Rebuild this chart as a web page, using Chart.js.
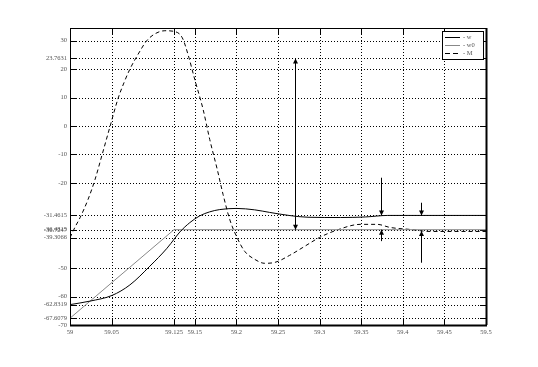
<!DOCTYPE html>
<html>
<head>
<meta charset="utf-8">
<script src="https://cdn.jsdelivr.net/npm/chart.js@4"></script>
<style>
  body { margin: 0; background: #fff; }
  #wrap { width: 538px; height: 367px; }
</style>
</head>
<body>
<div id="wrap"><canvas id="chart"></canvas></div>
<script>
// axis ticks
var xTicks = [59, 59.05, 59.125, 59.15, 59.2, 59.25, 59.3, 59.35, 59.4, 59.45, 59.5];
var yTicks = [-70, -67.6079, -62.8319, -60, -50, -39.3066, -36.7247, -36.4815, -31.4615, -20, -10, 0, 10, 20, 23.7631, 30];

// w (solid black)
var wX = [59.0, 59.024, 59.0505, 59.072, 59.096, 59.1166, 59.126, 59.132, 59.144, 59.156, 59.168, 59.180, 59.2, 59.222, 59.240, 59.264, 59.286, 59.325, 59.355, 59.382, 59.5];
var wY = [-62.83, -61.6, -59.6, -55.9, -49.3, -43.0, -39.5, -37.3, -34.0, -31.6, -30.2, -29.4, -29.0, -29.5, -30.4, -31.5, -32.1, -32.2, -32.0, -31.46, -31.46];

// w0 (grey)
var w0X = [59, 59.125, 59.5];
var w0Y = [-67.6079, -36.4815, -36.4815];

// M (dashed)
var mX = [59.000, 59.006, 59.012, 59.0216, 59.030, 59.0385, 59.048, 59.0577, 59.065, 59.072, 59.082, 59.092, 59.102, 59.114, 59.126, 59.135, 59.142, 59.150, 59.160, 59.168, 59.177, 59.184, 59.192, 59.2007, 59.210, 59.222, 59.234, 59.246, 59.264, 59.280, 59.300, 59.321, 59.349, 59.369, 59.385, 59.409, 59.433, 59.5];
var mY = [-39.31, -35.6, -32.3, -25.9, -18.9, -10.2, -0.3, 9.6, 15.3, 20.0, 25.3, 29.9, 32.4, 33.5, 33.2, 31, 25, 16.3, 5.8, -4.8, -15.3, -24.1, -32.9, -39.2, -44.1, -46.9, -48.3, -48, -45.5, -42.7, -39.2, -36.6, -34.6, -34.6, -35.7, -36.4, -37.1, -37.1];

// arrows: x position, tail value, tip value, head at tail too
var arrowX = [59.2704, 59.3734, 59.3734, 59.4217, 59.4217];
var arrowFrom = [-36.4815, -18.2, -40.5, -27, -48.1];
var arrowTo = [23.7631, -31.4615, -36.4815, -31.4615, -36.98];
var arrowBoth = [true, false, false, false, false];

var legendLabels = ['- w', '- w0', '- M'];

function pts(xs, ys) {
  return xs.map(function(x, i) { return { x: x, y: ys[i] }; });
}

function fmt(v) {
  return Number.isInteger(v) ? String(v) : String(+v.toFixed(4));
}

var tickFont = { family: 'Liberation Serif', size: 6.5 };

// grid, frame and inside ticks
var framePlugin = {
  id: 'frame',
  beforeDatasetsDraw: function(chart) {
    var ctx = chart.ctx, a = chart.chartArea;
    var xs = chart.scales.x, ys = chart.scales.y;
    ctx.save();
    ctx.strokeStyle = '#000';
    ctx.lineWidth = 1;
    ctx.setLineDash([1, 2]);
    xTicks.forEach(function(v) {
      var p = Math.round(xs.getPixelForValue(v)) + 0.5;
      ctx.beginPath(); ctx.moveTo(p, a.top); ctx.lineTo(p, a.bottom); ctx.stroke();
    });
    yTicks.forEach(function(v) {
      var p = Math.round(ys.getPixelForValue(v)) + 0.5;
      ctx.beginPath(); ctx.moveTo(a.left, p); ctx.lineTo(a.right, p); ctx.stroke();
    });
    ctx.setLineDash([]);
    xTicks.forEach(function(v) {
      var p = Math.round(xs.getPixelForValue(v)) + 0.5;
      ctx.beginPath();
      ctx.moveTo(p, a.bottom); ctx.lineTo(p, a.bottom - 6);
      ctx.moveTo(p, a.top); ctx.lineTo(p, a.top + 6);
      ctx.stroke();
    });
    yTicks.forEach(function(v) {
      var p = Math.round(ys.getPixelForValue(v)) + 0.5;
      ctx.beginPath();
      ctx.moveTo(a.left, p); ctx.lineTo(a.left + 6, p);
      ctx.moveTo(a.right, p); ctx.lineTo(a.right - 6, p);
      ctx.stroke();
    });
    ctx.restore();
  },
  afterDraw: function(chart) {
    var ctx = chart.ctx, a = chart.chartArea;
    var xs = chart.scales.x, ys = chart.scales.y;
    ctx.save();
    ctx.strokeStyle = '#000';
    ctx.fillStyle = '#000';
    ctx.lineWidth = 1;

    // arrows
    function head(px, py, dir) {
      ctx.beginPath();
      ctx.moveTo(px, py);
      ctx.lineTo(px - 2.5, py - dir * 5);
      ctx.lineTo(px + 2.5, py - dir * 5);
      ctx.closePath();
      ctx.fill();
    }
    arrowX.forEach(function(x, i) {
      var px = Math.round(xs.getPixelForValue(x)) + 0.5;
      var p1 = ys.getPixelForValue(arrowFrom[i]);
      var p2 = ys.getPixelForValue(arrowTo[i]);
      ctx.beginPath(); ctx.moveTo(px, p1); ctx.lineTo(px, p2); ctx.stroke();
      var dir = p2 > p1 ? 1 : -1;
      head(px, p2, dir);
      if (arrowBoth[i]) head(px, p1, -dir);
    });

    // frame
    ctx.lineWidth = 1;
    ctx.strokeRect(a.left + 0.5, a.top + 0.5, a.right - a.left, a.bottom - a.top);
    ctx.lineWidth = 2;
    ctx.beginPath(); ctx.moveTo(a.left, a.bottom + 0.5); ctx.lineTo(a.right + 1, a.bottom + 0.5); ctx.stroke();
    ctx.beginPath(); ctx.moveTo(a.right + 0.5, a.top); ctx.lineTo(a.right + 0.5, a.bottom); ctx.stroke();

    // legend
    var lx = a.right - 44, ly = a.top + 3, lw = 41, lh = 28;
    ctx.lineWidth = 1;
    ctx.fillStyle = '#fff';
    ctx.fillRect(lx, ly, lw, lh);
    ctx.strokeRect(lx + 0.5, ly + 0.5, lw, lh);
    var styles = [
      { c: '#000', d: [] },
      { c: '#888', d: [] },
      { c: '#000', d: [5, 3] }
    ];
    ctx.font = '6.5px "Liberation Serif"';
    ctx.textBaseline = 'middle';
    legendLabels.forEach(function(t, i) {
      var yy = Math.round(ly + 6 + i * 8) + 0.5;
      ctx.strokeStyle = styles[i].c;
      ctx.setLineDash(styles[i].d);
      ctx.beginPath(); ctx.moveTo(lx + 3, yy); ctx.lineTo(lx + 18, yy); ctx.stroke();
      ctx.setLineDash([]);
      ctx.fillStyle = '#555';
      ctx.fillText(t, lx + 21, yy);
    });
    ctx.restore();
  }
};

new Chart(document.getElementById('chart'), {
  type: 'line',
  data: {
    datasets: [{
      label: 'w',
      data: pts(wX, wY),
      borderColor: '#000',
      borderWidth: 1,
      pointRadius: 0,
      cubicInterpolationMode: 'monotone'
    }, {
      label: 'w0',
      data: pts(w0X, w0Y),
      borderColor: '#888',
      borderWidth: 1,
      pointRadius: 0,
      tension: 0
    }, {
      label: 'M',
      data: pts(mX, mY),
      borderColor: '#000',
      borderWidth: 1,
      borderDash: [4, 3],
      pointRadius: 0,
      cubicInterpolationMode: 'monotone'
    }]
  },
  options: {
    responsive: true,
    maintainAspectRatio: false,
    animation: false,
    layout: { padding: { top: 28, right: 52, left: 0, bottom: 0 } },
    plugins: {
      legend: { display: false },
      tooltip: { enabled: false }
    },
    scales: {
      x: {
        type: 'linear',
        min: 59,
        max: 59.5,
        afterBuildTicks: function(s) { s.ticks = xTicks.map(function(v) { return { value: v }; }); },
        afterFit: function(s) { s.height = 42; },
        grid: { display: false, drawTicks: false, tickLength: 0 },
        border: { display: false },
        ticks: {
          autoSkip: false,
          maxRotation: 0,
          padding: 3,
          color: '#555',
          font: tickFont,
          callback: function(v) { return fmt(v); }
        }
      },
      y: {
        type: 'linear',
        min: -70,
        max: 34.46,
        afterBuildTicks: function(s) { s.ticks = yTicks.map(function(v) { return { value: v }; }); },
        afterFit: function(s) { s.width = 70; },
        grid: { display: false, drawTicks: false, tickLength: 0 },
        border: { display: false },
        ticks: {
          autoSkip: false,
          padding: 3,
          color: '#555',
          font: tickFont,
          callback: function(v) { return fmt(v); }
        }
      }
    }
  },
  plugins: [framePlugin]
});
</script>
</body>
</html>
